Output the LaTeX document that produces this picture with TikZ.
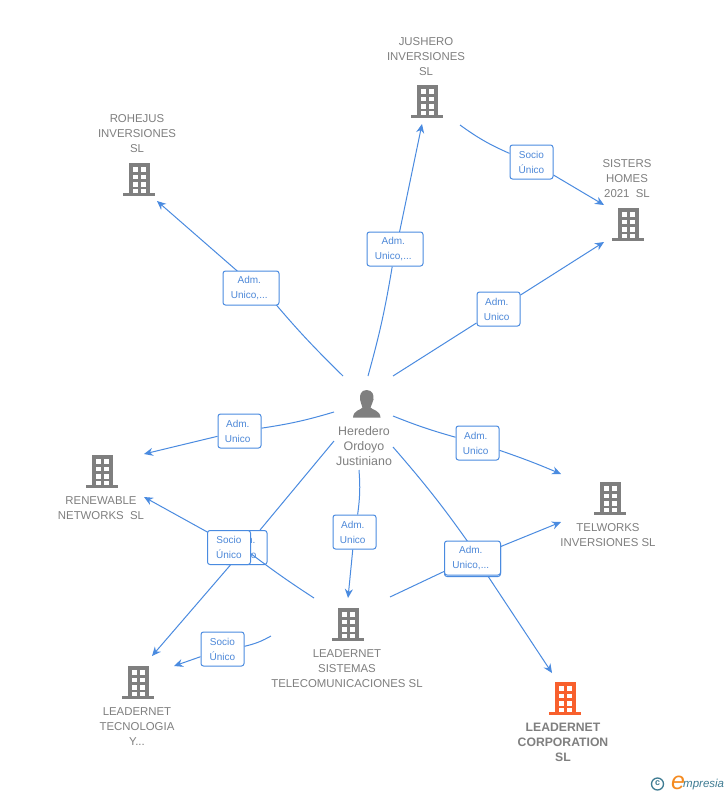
\documentclass[tikz,border=0pt]{standalone}
\usepackage{fontspec}
\setmainfont{Liberation Sans}
\usetikzlibrary{arrows.meta,backgrounds}
\definecolor{lnk}{HTML}{4A8BE0}
\definecolor{boxt}{HTML}{4D88D8}
\definecolor{gr}{HTML}{7F7F7F}
\definecolor{org}{HTML}{F8602D}
\definecolor{logot}{HTML}{3F7C93}
\definecolor{logoo}{HTML}{F58A1F}
\newcommand{\bx}[2]{#1\kern3.5pt\\#2\kern3.5pt}
\tikzset{
  x=1pt,y=-1pt,
  lab/.style={align=center,text=gr,font=\fontsize{11.4}{15}\selectfont,inner sep=0pt},
  blab/.style={lab,font=\fontsize{12.2}{15}\bfseries\selectfont},
  plab/.style={lab,font=\fontsize{12.4}{15}\selectfont},
  rel/.style={draw=lnk,line width=1pt,fill=white,rounded corners=2.5pt,align=center,text=boxt,
    font=\fontsize{10}{15}\selectfont,minimum height=34pt,inner sep=0pt},
  rn/.style={rel,minimum width=43pt},
  rw/.style={rel,minimum width=56pt},
  con/.style={draw=lnk,line width=1pt},
  arr/.style={con,-{Stealth[length=9pt,width=8pt]}},
  pics/bld/.style={code={
    \fill[#1] (-10.5,-16) rectangle (10.5,14);
    \fill[#1] (-16,14) rectangle (16,17);
    \foreach \yy in {-12,-4.5,3}{
      \fill[white] (-6.5,\yy) rectangle (-1.5,\yy+4.5);
      \fill[white] (1.5,\yy) rectangle (6.5,\yy+4.5);
    }
    \fill[white] (-6.5,9.5) rectangle (-1.5,14);
    \fill[white] (1.5,9.5) rectangle (6.5,14);
  }}
}
\begin{document}
\begin{tikzpicture}
\useasboundingbox (0,0) rectangle (728,795);
% buildings
\pic at (139,179) {bld=gr};
\pic at (427,101) {bld=gr};
\pic at (628,224) {bld=gr};
\pic at (102,471) {bld=gr};
\pic at (610,498) {bld=gr};
\pic at (348,624) {bld=gr};
\pic at (138,682) {bld=gr};
\pic at (565,698) {bld=org};
% person
\fill[gr] (366.5,390) .. controls (361,390) and (359.5,395) .. (360,399.5) .. controls (360.5,403) and (362,405) .. (362.5,407.5) .. controls (361,410) and (353.5,410) .. (353,417.5) -- (380.5,417.5) .. controls (380,410) and (372,410) .. (370.5,407.5) .. controls (371,405) and (373,403) .. (373.5,399.5) .. controls (374,395) and (372.5,390) .. (366.5,390) -- cycle;
% labels
\node[lab] (rohejus) at (137,133.5) {ROHEJUS\\INVERSIONES\\SL};
\node[lab] (jushero) at (426,57) {JUSHERO\\INVERSIONES\\SL};
\node[lab] (sisters) at (627,178.5) {SISTERS\\HOMES\\2021\ \ SL};
\node[lab] (renew) at (101,508) {RENEWABLE\\NETWORKS\ \ SL};
\node[lab] (telw) at (608,535) {TELWORKS\\INVERSIONES SL};
\node[lab] (sist) at (347,668.5) {LEADERNET\\SISTEMAS\\TELECOMUNICACIONES SL};
\node[lab] (tecno) at (137,726.5) {LEADERNET\\TECNOLOGIA\\Y...};
\node[blab] (corp) at (563,742) {LEADERNET\\CORPORATION\\SL};
\node[plab] (her) at (364,446) {Heredero\\Ordoyo\\Justiniano};
% relation boxes
\node[rw] (b1) at (251,288) {\bx{Adm.}{Unico,...}};
\node[rw] (b2) at (395,249) {\bx{Adm.}{Unico,...}};
\node[rn] (b3) at (498.5,309) {\bx{Adm.}{Unico}};
\node[rn] (b4) at (531.5,162) {Socio\\Único};
\node[rn] (b5) at (239.5,431) {\bx{Adm.}{Unico}};
\node[rn] (b6) at (477.5,443) {\bx{Adm.}{Unico}};
\node[rn] (b8) at (354.5,532) {\bx{Adm.}{Unico}};
\node[rw] (b9) at (472.5,559.5) {\bx{Adm.}{Unico,...}};
\node[rw] (b11) at (472.5,558) {\bx{Adm.}{Unico,...}};
\node[rn] (b10) at (229,547.5) {Socio\\Único};
\node[rn] (b12) at (222.5,649) {Socio\\Único};
% free ends and hidden routing points
\foreach \n/\x/\y in {a1/343/376,a1e/157/201,a2/368/376,a2e/422/124,a3/393/376,a3e/604/242,
  a4/460/125,a4e/604/205,a5/334/412,a5e/144/454,a6/393/416,a6e/561/474,a7/334/441,a7e/152/656,
  a8/359/470,a8e/348/598,a9/393/447,a9e/552/673,a10/314/598,a10e/144/497,a11/390/597,a11e/561/522,
  a12/271/636,a12e/174/666,
  r1a/263/289,r1b/251/283,r2b/396/249,r9a/475/552,r9b/472/552,r10a/250/553,r10b/229/544}{\coordinate (\n) at (\x,\y);}
\begin{scope}[on background layer]
\fill[white] (0,0) rectangle (728,795);
\node[rn] (b7) at (245.5,547.5) {\bx{Adm.}{Unico}};
\draw[con] (a1) to[bend left=3] (r1a);
\draw[arr] (r1b) -- (a1e);
\draw[con] (a2) to[bend right=3] (b2);
\draw[arr] (r2b) -- (a2e);
\draw[con] (a3) -- (b3);
\draw[arr] (b3) -- (a3e);
\draw[con] (a4) to[bend right=6] (b4);
\draw[arr] (b4) -- (a4e);
\draw[con] (a5) to[bend left=4] (b5);
\draw[arr] (b5) -- (a5e);
\draw[con] (a6) to[bend right=3] (b6);
\draw[arr] (b6) to[bend left=2] (a6e);
\draw[con] (a7) -- (b7);
\draw[arr] (b7) -- (a7e);
\draw[con] (a8) to[bend left=6] (b8);
\draw[arr] (b8) -- (a8e);
\draw[con] (a9) to[bend left=3] (r9a);
\draw[arr] (r9b) -- (a9e);
\draw[con] (a10) to[bend left=2] (r10a);
\draw[arr] (r10b) -- (a10e);
\draw[con] (a11) -- (b11);
\draw[arr] (b11) -- (a11e);
\draw[con] (a12) to[bend left=8] (b12);
\draw[arr] (b12) -- (a12e);
\end{scope}
% logo
\draw[logot,line width=1.3pt] (657.5,784) circle (6);
\node[text=logot,font=\fontsize{9}{9}\bfseries\selectfont,inner sep=0pt] (copyr) at (657.5,783.5) {c};
\node[text=logoo,font=\fontsize{25}{25}\itshape\selectfont,inner sep=0pt] (logoe) at (678,783) {e};
\node[text=logot,font=\fontsize{11.5}{12}\itshape\selectfont,inner sep=0pt,anchor=west] (logom) at (683,785) {mpresia};
\end{tikzpicture}
\end{document}
